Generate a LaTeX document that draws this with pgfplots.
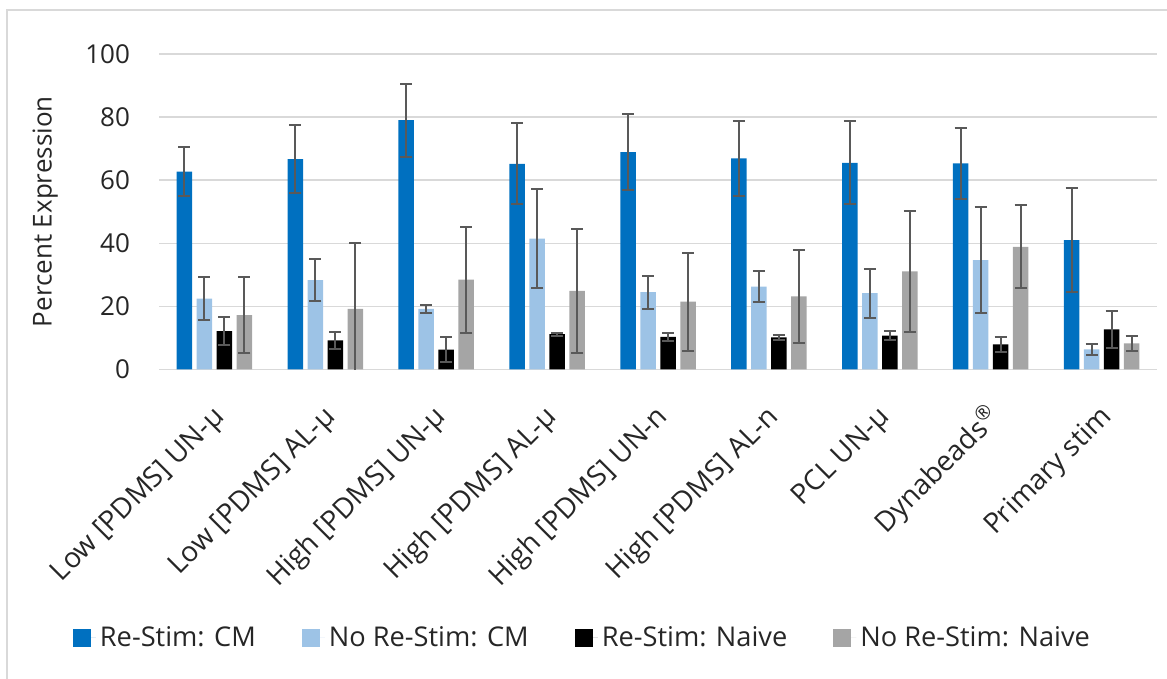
\documentclass[border=0pt]{standalone}
\usepackage{pgfplots}
\pgfplotsset{compat=1.18}
\usepackage{pgfplotstable}
\usepackage{fontspec}
\setmainfont{Open Sans}

\definecolor{cmblue}{HTML}{0070C0}
\definecolor{cmlight}{HTML}{9DC3E6}
\definecolor{nvgray}{HTML}{A5A5A5}
\definecolor{gridgray}{HTML}{D9D9D9}
\definecolor{errgray}{HTML}{595959}
\definecolor{txt}{HTML}{262626}

% columns: category, mean and error for each of the four groups
\pgfplotstableread{
x  rc   rce   nc   nce   rn   rne   nn   nne
0  62.7 7.7   22.5 6.9   12.2 4.4   17.2 12.0
1  66.7 10.9  28.3 6.7   9.2  2.6   19.2 20.8
2  79.0 11.6  19.2 1.4   6.3  4.0   28.5 16.8
3  65.2 12.9  41.5 15.8  11.2 0.5   24.9 19.7
4  68.9 12.1  24.5 5.2   10.3 1.4   21.5 15.5
5  66.9 11.9  26.3 5.0   10.2 0.7   23.2 14.8
6  65.5 13.2  24.2 7.8   10.7 1.5   31.1 19.2
7  65.3 11.3  34.7 16.9  8.0  2.4   38.9 13.1
8  41.0 16.4  6.4  1.7   12.7 5.8   8.3  2.4
}\datatable

\begin{document}
\begin{tikzpicture}
\path[use as bounding box] (0,0) rectangle (583.5pt,339.5pt);
\draw[gridgray, line width=1pt] (3.5pt,0) -- (3.5pt,334.5pt) -- (583.5pt,334.5pt);
\begin{axis}[
  at={(79.5pt,154.75pt)}, anchor=south west,
  scale only axis, width=499pt, height=157.75pt,
  ybar=2.25pt, bar width=7.75pt,
  xmin=-0.5, xmax=8.5, ymin=0, ymax=100,
  ytick={0,20,...,100},
  xtick=data,
  xticklabels={Low [PDMS] UN-μ, Low [PDMS] AL-μ, High [PDMS] UN-μ, High [PDMS] AL-μ, High [PDMS] UN-n, High [PDMS] AL-n, PCL UN-μ, Dynabeads\textsuperscript{®}, Primary stim},
  /pgf/number format/assume math mode=true,
  font=\fontsize{13}{15}\selectfont,
  tick label style={text=txt},
  xticklabel style={xshift=8pt, yshift=-22pt, rotate=45, anchor=base east,
    font=\fontsize{14}{16}\selectfont},
  yticklabel style={xshift=-11pt},
  major tick length=0pt,
  axis x line=bottom, axis y line=left,
  x axis line style={draw=gridgray, line width=0.75pt, -},
  y axis line style={draw=none},
  ymajorgrids, grid style={draw=gridgray, line width=0.75pt},
  ylabel={Percent Expression},
  ylabel style={at={(axis description cs:-0.114,0.5)}, anchor=center, text=txt},
  legend columns=4,
  legend style={at={(0.4253,-0.851)}, anchor=center, draw=none, fill=none,
    font=\fontsize{13.6}{15}\selectfont, text=txt,
    /tikz/every even column/.append style={column sep=21pt}},
  legend cell align=left,
  legend image code/.code={\fill[#1] (0pt,-4.5pt) rectangle (9pt,4.5pt);
    \path (0pt,0pt) -- (11.5pt,0pt);},
  error bars/y dir=both, error bars/y explicit,
  error bars/error bar style={draw=errgray, line width=1pt},
  error bars/error mark options={draw=errgray, line width=1pt, mark size=3pt, rotate=90},
]
\addplot[fill=cmblue, draw=none] table[x=x, y=rc, y error=rce] {\datatable};
\addplot[fill=cmlight, draw=none] table[x=x, y=nc, y error=nce] {\datatable};
\addplot[fill=black, draw=none] table[x=x, y=rn, y error=rne] {\datatable};
\addplot[fill=nvgray, draw=none] table[x=x, y=nn, y error=nne] {\datatable};
\legend{Re-Stim: CM, No Re-Stim: CM, Re-Stim: Naive, No Re-Stim: Naive}
\node[text=txt, font=\fontsize{13}{15}\selectfont] at (axis description cs:0.976,1.038) {B};
\end{axis}
\end{tikzpicture}
\end{document}
